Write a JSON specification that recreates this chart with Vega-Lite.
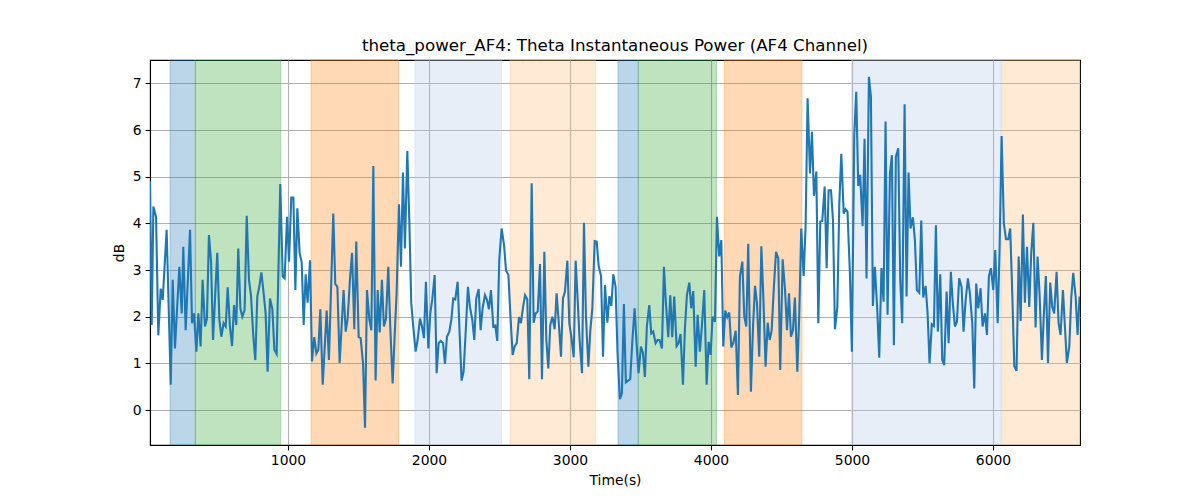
{
  "$schema": "https://vega.github.io/schema/vega-lite/v6.json",
  "width": 930,
  "height": 385,
  "autosize": {"type": "none"},
  "padding": {"left": 150, "top": 60, "right": 120, "bottom": 55},
  "background": "white",
  "view": {"stroke": "black", "strokeWidth": 1.1},
  "title": {
    "text": "theta_power_AF4: Theta Instantaneous Power (AF4 Channel)",
    "font": "DejaVu Sans",
    "fontSize": 16.7,
    "fontWeight": "normal",
    "color": "black",
    "offset": 5
  },
  "config": {
    "font": "DejaVu Sans",
    "axis": {
      "domainColor": "black",
      "domainWidth": 1.1,
      "tickColor": "black",
      "tickWidth": 1.1,
      "tickSize": 4.9,
      "labelFont": "DejaVu Sans",
      "labelFontSize": 13.9,
      "labelColor": "black",
      "labelPadding": 4,
      "titleFont": "DejaVu Sans",
      "titleFontSize": 13.9,
      "titleFontWeight": "normal",
      "titleColor": "black",
      "gridColor": "#b0b0b0",
      "gridWidth": 1.1,
      "labelFlush": false
    }
  },
  "datasets": {
    "bands": [
      {"start": 163, "end": 343, "kind": "blue"},
      {"start": 343, "end": 948, "kind": "green"},
      {"start": 1163, "end": 1784, "kind": "orange"},
      {"start": 1900, "end": 2515, "kind": "lightblue"},
      {"start": 2574, "end": 3182, "kind": "lightorange"},
      {"start": 3340, "end": 3484, "kind": "blue"},
      {"start": 3484, "end": 4040, "kind": "green"},
      {"start": 4094, "end": 4645, "kind": "orange"},
      {"start": 4997, "end": 6056, "kind": "lightblue"},
      {"start": 6061, "end": 6617, "kind": "lightorange"}
    ],
    "power": [
      {"t":21,"v":4.9},{"t":33,"v":1.82},{"t":45,"v":4.36},{"t":64,"v":4.14},{"t":80,"v":1.6},{"t":97,"v":2.6},{"t":111,"v":2.36},{"t":139,"v":3.86},{"t":168,"v":0.54},{"t":182,"v":2.79},{"t":198,"v":1.32},{"t":229,"v":3.07},{"t":246,"v":2.07},{"t":257,"v":3.5},{"t":274,"v":1.71},{"t":305,"v":3.86},{"t":319,"v":1.86},{"t":333,"v":2.07},{"t":350,"v":1.25},{"t":364,"v":2.07},{"t":380,"v":1.36},{"t":394,"v":2.79},{"t":411,"v":1.79},{"t":425,"v":1.96},{"t":439,"v":3.75},{"t":454,"v":3.18},{"t":468,"v":1.5},{"t":484,"v":2.5},{"t":498,"v":3.37},{"t":513,"v":1.93},{"t":527,"v":1.57},{"t":543,"v":1.86},{"t":558,"v":1.79},{"t":572,"v":2.63},{"t":588,"v":1.79},{"t":603,"v":1.37},{"t":617,"v":2.25},{"t":633,"v":1.82},{"t":647,"v":3.46},{"t":662,"v":2.18},{"t":676,"v":2.0},{"t":692,"v":2.14},{"t":707,"v":4.16},{"t":723,"v":2.79},{"t":737,"v":2.46},{"t":754,"v":1.57},{"t":768,"v":1.07},{"t":782,"v":2.43},{"t":796,"v":2.64},{"t":811,"v":2.95},{"t":827,"v":2.5},{"t":841,"v":2.07},{"t":855,"v":0.82},{"t":872,"v":2.39},
      {"t":889,"v":2.16},{"t":903,"v":1.29},{"t":919,"v":1.2},{"t":931,"v":2.86},{"t":945,"v":4.84},{"t":962,"v":2.86},{"t":976,"v":2.82},{"t":993,"v":4.14},{"t":1007,"v":3.18},{"t":1023,"v":4.55},{"t":1038,"v":4.55},{"t":1052,"v":2.57},{"t":1066,"v":4.32},{"t":1082,"v":3.37},{"t":1097,"v":3.16},{"t":1111,"v":1.82},{"t":1125,"v":2.91},{"t":1139,"v":2.3},{"t":1156,"v":3.21},{"t":1170,"v":1.04},{"t":1186,"v":1.56},{"t":1201,"v":1.21},{"t":1215,"v":1.29},{"t":1229,"v":2.16},{"t":1246,"v":0.54},{"t":1274,"v":2.13},{"t":1290,"v":1.07},{"t":1321,"v":4.21},{"t":1335,"v":2.7},{"t":1350,"v":2.64},{"t":1366,"v":1.01},{"t":1394,"v":2.57},{"t":1409,"v":1.68},{"t":1423,"v":1.96},{"t":1439,"v":2.79},{"t":1454,"v":3.37},{"t":1470,"v":1.73},{"t":1484,"v":3.61},{"t":1501,"v":1.56},{"t":1515,"v":1.54},{"t":1532,"v":1.0},{"t":1546,"v":-0.38},{"t":1560,"v":2.57},{"t":1577,"v":1.93},{"t":1591,"v":1.71},{"t":1605,"v":5.23},{"t":1621,"v":0.63},{"t":1636,"v":2.57},{"t":1650,"v":1.66},{"t":1666,"v":2.79},{"t":1680,"v":1.79},
      {"t":1695,"v":1.96},{"t":1711,"v":3.07},{"t":1725,"v":1.79},{"t":1742,"v":0.57},{"t":1756,"v":1.57},{"t":1770,"v":2.5},{"t":1787,"v":4.41},{"t":1801,"v":3.07},{"t":1815,"v":5.09},{"t":1829,"v":3.46},{"t":1846,"v":5.55},{"t":1860,"v":4.07},{"t":1874,"v":2.29},{"t":1888,"v":1.79},{"t":1905,"v":1.25},{"t":1919,"v":1.5},{"t":1936,"v":1.96},{"t":1950,"v":1.79},{"t":1964,"v":1.54},{"t":1978,"v":2.75},{"t":1995,"v":1.32},{"t":2009,"v":2.07},{"t":2023,"v":2.37},{"t":2040,"v":2.89},{"t":2054,"v":0.79},{"t":2068,"v":1.43},{"t":2082,"v":1.48},{"t":2099,"v":1.44},{"t":2113,"v":0.99},{"t":2127,"v":1.57},{"t":2144,"v":1.68},{"t":2158,"v":1.93},{"t":2172,"v":2.39},{"t":2186,"v":2.37},{"t":2203,"v":2.75},{"t":2217,"v":1.64},{"t":2231,"v":0.63},{"t":2245,"v":0.82},{"t":2262,"v":1.79},{"t":2276,"v":2.64},{"t":2290,"v":2.21},{"t":2307,"v":1.93},{"t":2321,"v":1.5},{"t":2335,"v":2.39},{"t":2352,"v":2.59},{"t":2366,"v":1.71},{"t":2380,"v":2.18},{"t":2397,"v":2.46},{"t":2411,"v":2.36},{"t":2425,"v":2.16},{"t":2439,"v":2.57},{"t":2456,"v":1.79},{"t":2470,"v":1.81},{"t":2484,"v":1.48},{"t":2498,"v":3.21},
      {"t":2515,"v":3.89},{"t":2532,"v":3.54},{"t":2546,"v":2.99},{"t":2563,"v":2.89},{"t":2577,"v":2.04},{"t":2593,"v":1.18},{"t":2607,"v":1.36},{"t":2622,"v":1.43},{"t":2638,"v":1.99},{"t":2652,"v":1.86},{"t":2667,"v":2.21},{"t":2681,"v":2.46},{"t":2697,"v":2.37},{"t":2711,"v":0.66},{"t":2728,"v":4.86},{"t":2742,"v":1.87},{"t":2756,"v":2.07},{"t":2771,"v":2.11},{"t":2787,"v":3.13},{"t":2801,"v":0.66},{"t":2818,"v":3.39},{"t":2832,"v":1.5},{"t":2846,"v":0.89},{"t":2860,"v":1.82},{"t":2875,"v":2.0},{"t":2891,"v":1.73},{"t":2905,"v":2.5},{"t":2922,"v":1.79},{"t":2936,"v":1.14},{"t":2950,"v":2.39},{"t":2964,"v":2.54},{"t":2981,"v":3.2},{"t":2995,"v":1.86},{"t":3009,"v":1.57},{"t":3026,"v":1.13},{"t":3040,"v":3.2},{"t":3054,"v":2.37},{"t":3068,"v":1.5},{"t":3085,"v":0.79},{"t":3099,"v":4.01},{"t":3113,"v":2.0},{"t":3130,"v":0.93},{"t":3144,"v":1.71},{"t":3158,"v":2.16},{"t":3175,"v":3.62},{"t":3189,"v":3.61},{"t":3203,"v":3.09},{"t":3220,"v":2.87},{"t":3234,"v":1.14},{"t":3248,"v":2.68},{"t":3265,"v":1.87},{"t":3279,"v":2.44},{"t":3293,"v":2.23},{"t":3307,"v":2.91},
      {"t":3323,"v":2.64},{"t":3337,"v":1.21},{"t":3354,"v":0.23},{"t":3368,"v":0.36},{"t":3382,"v":2.27},{"t":3396,"v":0.59},{"t":3413,"v":0.63},{"t":3427,"v":0.66},{"t":3441,"v":1.43},{"t":3458,"v":2.18},{"t":3472,"v":1.43},{"t":3486,"v":0.79},{"t":3503,"v":1.36},{"t":3517,"v":1.23},{"t":3531,"v":0.71},{"t":3545,"v":1.79},{"t":3562,"v":2.25},{"t":3576,"v":1.64},{"t":3590,"v":1.68},{"t":3607,"v":1.43},{"t":3621,"v":1.5},{"t":3635,"v":1.5},{"t":3652,"v":1.32},{"t":3666,"v":3.07},{"t":3680,"v":2.29},{"t":3697,"v":1.56},{"t":3711,"v":2.46},{"t":3725,"v":1.56},{"t":3739,"v":2.43},{"t":3756,"v":1.37},{"t":3770,"v":1.43},{"t":3784,"v":1.63},{"t":3801,"v":0.54},{"t":3815,"v":1.75},{"t":3829,"v":2.46},{"t":3846,"v":2.73},{"t":3860,"v":2.18},{"t":3874,"v":2.55},{"t":3891,"v":0.93},{"t":3905,"v":2.04},{"t":3921,"v":1.25},{"t":3935,"v":1.79},{"t":3952,"v":2.57},{"t":3969,"v":0.54},{"t":3983,"v":1.46},{"t":3997,"v":1.18},{"t":4011,"v":2.0},{"t":4028,"v":1.89},{"t":4042,"v":4.14},{"t":4058,"v":3.29},{"t":4073,"v":3.64},{"t":4087,"v":1.36},{"t":4101,"v":2.13},{"t":4115,"v":1.99},{"t":4129,"v":2.09},
      {"t":4144,"v":1.34},{"t":4158,"v":1.43},{"t":4175,"v":1.7},{"t":4191,"v":0.32},{"t":4205,"v":2.86},{"t":4222,"v":3.18},{"t":4236,"v":2.0},{"t":4250,"v":1.79},{"t":4264,"v":3.56},{"t":4283,"v":0.39},{"t":4298,"v":1.79},{"t":4312,"v":2.66},{"t":4326,"v":2.29},{"t":4342,"v":1.14},{"t":4357,"v":3.51},{"t":4371,"v":2.43},{"t":4387,"v":0.93},{"t":4402,"v":1.87},{"t":4416,"v":1.5},{"t":4430,"v":1.7},{"t":4446,"v":2.64},{"t":4461,"v":3.39},{"t":4477,"v":3.25},{"t":4491,"v":0.86},{"t":4508,"v":3.23},{"t":4525,"v":2.57},{"t":4539,"v":1.71},{"t":4553,"v":2.5},{"t":4567,"v":1.57},{"t":4581,"v":1.71},{"t":4595,"v":2.41},{"t":4612,"v":0.82},{"t":4626,"v":2.07},{"t":4640,"v":3.89},{"t":4657,"v":2.87},{"t":4671,"v":3.96},{"t":4685,"v":6.68},{"t":4702,"v":5.07},{"t":4716,"v":5.96},{"t":4730,"v":4.59},{"t":4747,"v":5.11},{"t":4761,"v":1.86},{"t":4775,"v":4.04},{"t":4789,"v":4.05},{"t":4806,"v":4.79},{"t":4820,"v":3.04},{"t":4834,"v":4.71},{"t":4851,"v":4.71},{"t":4865,"v":4.07},{"t":4879,"v":1.73},{"t":4896,"v":2.21},{"t":4910,"v":4.43},{"t":4924,"v":5.49},{"t":4941,"v":4.21},
      {"t":4954,"v":4.3},{"t":4968,"v":4.25},{"t":4985,"v":2.93},{"t":4999,"v":1.25},{"t":5016,"v":5.89},{"t":5030,"v":6.82},{"t":5044,"v":4.8},{"t":5058,"v":5.04},{"t":5075,"v":3.94},{"t":5089,"v":5.81},{"t":5103,"v":2.82},{"t":5120,"v":7.14},{"t":5134,"v":6.71},{"t":5148,"v":2.23},{"t":5162,"v":3.07},{"t":5179,"v":2.16},{"t":5193,"v":1.12},{"t":5209,"v":3.04},{"t":5224,"v":2.32},{"t":5238,"v":6.18},{"t":5252,"v":2.04},{"t":5269,"v":5.07},{"t":5283,"v":5.46},{"t":5297,"v":1.39},{"t":5311,"v":5.43},{"t":5328,"v":5.61},{"t":5342,"v":2.79},{"t":5356,"v":1.86},{"t":5373,"v":6.55},{"t":5387,"v":2.43},{"t":5401,"v":5.09},{"t":5415,"v":3.89},{"t":5432,"v":4.13},{"t":5446,"v":3.64},{"t":5460,"v":2.57},{"t":5477,"v":2.51},{"t":5491,"v":4.06},{"t":5505,"v":2.41},{"t":5522,"v":2.66},{"t":5536,"v":2.07},{"t":5550,"v":1.0},{"t":5566,"v":1.84},{"t":5581,"v":1.8},{"t":5595,"v":3.96},{"t":5609,"v":1.68},{"t":5626,"v":2.91},{"t":5640,"v":1.07},{"t":5654,"v":0.96},{"t":5671,"v":2.54},{"t":5685,"v":1.43},{"t":5701,"v":2.96},{"t":5715,"v":2.29},{"t":5730,"v":1.79},{"t":5744,"v":1.89},{"t":5760,"v":2.82},
      {"t":5777,"v":2.64},{"t":5791,"v":1.68},{"t":5806,"v":2.36},{"t":5822,"v":2.82},{"t":5836,"v":2.5},{"t":5853,"v":1.86},{"t":5867,"v":0.46},{"t":5881,"v":2.71},{"t":5895,"v":2.18},{"t":5912,"v":2.61},{"t":5926,"v":1.79},{"t":5943,"v":2.07},{"t":5957,"v":1.61},{"t":5971,"v":2.87},{"t":5985,"v":3.04},{"t":6002,"v":2.57},{"t":6016,"v":3.43},{"t":6033,"v":1.86},{"t":6047,"v":3.5},{"t":6061,"v":5.87},{"t":6077,"v":4.0},{"t":6092,"v":3.66},{"t":6108,"v":3.66},{"t":6122,"v":3.89},{"t":6137,"v":2.46},{"t":6151,"v":0.94},{"t":6167,"v":0.84},{"t":6182,"v":3.29},{"t":6196,"v":1.91},{"t":6212,"v":4.19},{"t":6226,"v":2.3},{"t":6241,"v":3.5},{"t":6257,"v":2.21},{"t":6271,"v":3.36},{"t":6286,"v":4.01},{"t":6302,"v":1.77},{"t":6316,"v":3.29},{"t":6330,"v":2.5},{"t":6347,"v":1.07},{"t":6361,"v":2.07},{"t":6375,"v":2.87},{"t":6390,"v":1.01},{"t":6406,"v":2.73},{"t":6420,"v":2.21},{"t":6434,"v":2.07},{"t":6451,"v":2.96},{"t":6465,"v":1.86},{"t":6479,"v":1.61},{"t":6496,"v":2.57},{"t":6510,"v":1.79},{"t":6524,"v":1.01},{"t":6541,"v":1.36},{"t":6555,"v":2.41},{"t":6569,"v":2.94},{"t":6586,"v":2.43},{"t":6600,"v":1.61},{"t":6614,"v":2.43}
    ]
  },
  "layer": [
    {
      "data": {"name": "bands"},
      "mark": {"type": "rect", "fillOpacity": 0.3, "strokeOpacity": 0.3, "strokeWidth": 1, "clip": true},
      "encoding": {
        "x": {
          "field": "start",
          "type": "quantitative",
          "scale": {"domain": [21, 6617], "nice": false, "zero": false},
          "axis": {"title": "Time(s)", "values": [1000, 2000, 3000, 4000, 5000, 6000], "format": "d", "grid": true, "titlePadding": 6}
        },
        "x2": {"field": "end"},
        "fill": {
          "field": "kind",
          "type": "nominal",
          "scale": {
            "domain": ["blue", "green", "orange", "lightblue", "lightorange"],
            "range": ["#1f77b4", "#2ca02c", "#ff7f0e", "#aec7e8", "#ffbb78"]
          },
          "legend": null
        },
        "stroke": {"field": "kind", "type": "nominal", "legend": null, "scale": {
            "domain": ["blue", "green", "orange", "lightblue", "lightorange"],
            "range": ["#1f77b4", "#2ca02c", "#ff7f0e", "#aec7e8", "#ffbb78"]
          }}
      }
    },
    {
      "data": {"name": "power"},
      "mark": {"type": "line", "color": "#1f77b4", "strokeWidth": 2.1, "clip": true},
      "encoding": {
        "x": {"field": "t", "type": "quantitative"},
        "y": {
          "field": "v",
          "type": "quantitative",
          "scale": {"domain": [-0.75, 7.5], "nice": false, "zero": false},
          "axis": {"title": "dB", "values": [0, 1, 2, 3, 4, 5, 6, 7], "grid": true, "titlePadding": 6}
        }
      }
    }
  ]
}
